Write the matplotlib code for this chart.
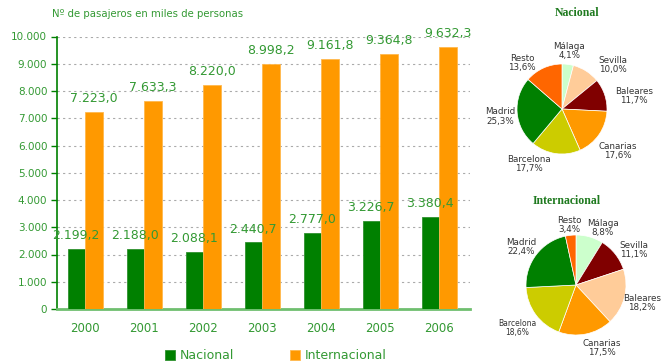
import matplotlib
matplotlib.use("Agg")
import matplotlib.pyplot as plt
import numpy as np

# data
years = ["2000", "2001", "2002", "2003", "2004", "2005", "2006"]
nacional = [2199.2, 2188.0, 2088.1, 2440.7, 2777.0, 3226.7, 3380.4]
internacional = [7223.0, 7633.3, 8220.0, 8998.2, 9161.8, 9364.8, 9632.3]

pie_nac_labels = ["Málaga", "Sevilla", "Baleares", "Canarias", "Barcelona", "Madrid", "Resto"]
pie_nac_values = [4.1, 10.0, 11.7, 17.6, 17.7, 25.3, 13.6]
pie_nac_colors = ["#ccffcc", "#ffcc99", "#800000", "#ff9900", "#cccc00", "#008000", "#ff6600"]

pie_int_labels = ["Málaga", "Sevilla", "Baleares", "Canarias", "Barcelona", "Madrid", "Resto"]
pie_int_values = [8.8, 11.1, 18.2, 17.5, 18.6, 22.4, 3.4]
pie_int_colors = ["#ccffcc", "#800000", "#ffcc99", "#ff9900", "#cccc00", "#008000", "#ff6600"]

# label placement around each pie (in units of the pie radius)
nac_label_pos = [(0.16, 1.29), (1.13, 0.98), (1.6, 0.29), (1.24, -0.93),
                 (-0.73, -1.22), (-1.38, -0.16), (-0.89, 1.02)]
int_label_pos = [(0.54, 1.14), (1.16, 0.7), (1.32, -0.36), (0.52, -1.26),
                 (-1.18, -0.86), (-1.1, 0.76), (-0.14, 1.2)]

GREEN_TXT = "#339933"
W, H = 664, 363


def es_num(v, dec=1):
    s = f"{v:,.{dec}f}"
    return s.replace(",", "X").replace(".", ",").replace("X", ".")


fig = plt.figure(figsize=(W / 100, H / 100), dpi=100)

# bar chart
ax = fig.add_axes([57 / W, 1 - 309 / H, (470 - 57) / W, (309 - 36.5) / H])
x = np.arange(len(years))
w = 0.297
b1 = ax.bar(x - w / 2, nacional, w, color="#008000", edgecolor="#2f912f", linewidth=0.6, zorder=3)
b2 = ax.bar(x + w / 2, internacional, w, color="#ff9900", edgecolor="#ffb84d", linewidth=0.6, zorder=3)

for bars, vals in ((b1, nacional), (b2, internacional)):
    for r, v in zip(bars, vals):
        ax.annotate(es_num(v), (r.get_x() + r.get_width() / 2, v), xytext=(0, 5),
                    textcoords="offset points", ha="center", va="bottom",
                    fontsize=9, color=GREEN_TXT, zorder=4)

ax.set_xlim(-0.475, 6.525)
ax.set_ylim(0, 10000)
ax.set_yticks(np.arange(0, 10001, 1000))
ax.set_yticklabels([es_num(v, 0) for v in np.arange(0, 10001, 1000)], fontsize=7.5, color=GREEN_TXT)
ax.set_xticks(x)
ax.set_xticklabels(years, fontsize=8.5, color=GREEN_TXT)
ax.tick_params(axis="x", length=0, pad=9)
ax.tick_params(axis="y", length=4, color="#008000", width=1, pad=3)
ax.grid(axis="y", color="#aaaaaa", linestyle=(0, (2, 3)), linewidth=0.8, zorder=0)
for s in ("top", "right"):
    ax.spines[s].set_visible(False)
ax.spines["left"].set_color("#008000")
ax.spines["left"].set_linewidth(1.2)
ax.spines["bottom"].set_color("#6fbf6f")
ax.spines["bottom"].set_linewidth(2)

leg = ax.legend([b1, b2], ["Nacional", "Internacional"], ncol=2, loc="center",
                bbox_to_anchor=(0.53, -0.172), frameon=False, fontsize=9,
                handlelength=0.75, handleheight=0.75, handletextpad=0.4, columnspacing=4.5)
for t in leg.get_texts():
    t.set_color(GREEN_TXT)

fig.text(52 / W, 1 - 14 / H, "Nº de pasajeros en miles de personas", fontsize=7.3,
         color=GREEN_TXT, va="center", ha="left")


# pies
def draw_pie(cx, cy, r, vals, labels, colors, label_pos, title, title_x, title_y, small=None):
    L = 1.6
    size = 2 * L * r
    pax = fig.add_axes([(cx - size / 2) / W, 1 - (cy + size / 2) / H, size / W, size / H])
    texts = [f"{n}\n{es_num(v)}%" for n, v in zip(labels, vals)]
    wedges, tx = pax.pie(vals, colors=colors, startangle=90, counterclock=False,
                         labels=texts, labeldistance=1.3,
                         wedgeprops=dict(edgecolor="white", linewidth=0.5),
                         textprops=dict(fontsize=6.3, color="#333333"))
    for t, p in zip(tx, label_pos):
        t.set_position(p)
        t.set_ha("center")
        t.set_va("center")
        t.set_linespacing(1.1)
    if small is not None:
        tx[small].set_fontsize(5.5)
    pax.set_xlim(-L, L)
    pax.set_ylim(-L, L)
    pax.set_aspect("equal")
    pax.axis("off")
    fig.text(title_x / W, 1 - title_y / H, title, fontsize=8.5, fontweight="bold",
             family="Liberation Serif", color="#1f7a1f", ha="center", va="center")


draw_pie(562, 109, 45, pie_nac_values, pie_nac_labels, pie_nac_colors, nac_label_pos,
         "Nacional", 577, 13)
draw_pie(576, 285, 50, pie_int_values, pie_int_labels, pie_int_colors, int_label_pos,
         "Internacional", 567, 201, small=4)

fig.savefig("out.png", dpi=100)
